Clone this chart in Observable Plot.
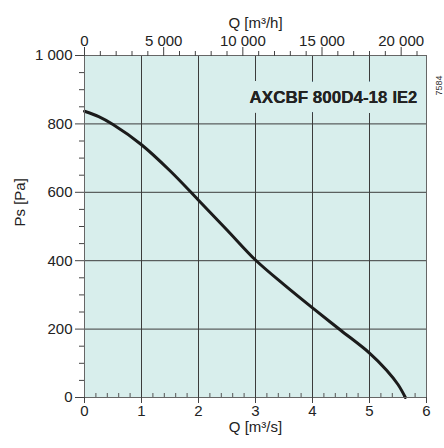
<!DOCTYPE html>
<html>
<head>
<meta charset="utf-8">
<script src="https://cdn.jsdelivr.net/npm/d3@7"></script>
<script src="https://cdn.jsdelivr.net/npm/@observablehq/plot@0.6"></script>
<style>
  html, body { margin: 0; padding: 0; background: #ffffff; }
  #chart svg { display: block; }
</style>
</head>
<body>
<div id="chart"></div>
<script>
// ---- data ----
const flowM3s = [0, 0.25, 0.5, 1, 1.5, 2, 2.5, 3, 3.5, 4, 4.5, 5, 5.3, 5.5, 5.63];
const pressurePa = [837, 821, 798, 739, 663, 577, 490, 402, 330, 262, 196, 130, 80, 38, 0];

const bottomTicks = [0, 1, 2, 3, 4, 5, 6];
const bottomMinor = [0.2, 0.4, 0.6, 0.8, 1.2, 1.4, 1.6, 1.8, 2.2, 2.4, 2.6, 2.8, 3.2, 3.4, 3.6, 3.8, 4.2, 4.4, 4.6, 4.8, 5.2, 5.4, 5.6, 5.8];
const topTicksH = [0, 5000, 10000, 15000, 20000];
const topMinorH = [1000, 2000, 3000, 4000, 6000, 7000, 8000, 9000, 11000, 12000, 13000, 14000, 16000, 17000, 18000, 19000, 21000];
const leftTicks = [0, 200, 400, 600, 800, 1000];
const leftMinor = [50, 100, 150, 250, 300, 350, 450, 500, 550, 650, 700, 750, 850, 900, 950];
const gridX = [1, 2, 3, 4, 5];
const gridY = [200, 400, 600, 800];

const titleMain = "AXCBF 800D4-18";
const titleSuffix = "IE2";
const codeLabel = "7584";
const xLabelBottom = "Q [m³/s]";
const xLabelTop = "Q [m³/h]";
const yLabel = "Ps [Pa]";
const secondsPerHour = 3600;

// ---- build ----
const curve = flowM3s.map((q, i) => ({q, p: pressurePa[i]}));
const spaced = d3.formatLocale({decimal: ".", thousands: " ", grouping: [3], currency: ["", ""]}).format(",");

const bg = "#d8eeec";
const W = 444, H = 448;
const mTop = 55, mBottom = 51, mLeft = 84, mRight = 18;
const innerH = H - mTop - mBottom;

const chart = Plot.plot({
  width: W,
  height: H,
  marginTop: mTop,
  marginBottom: mBottom,
  marginLeft: mLeft,
  marginRight: mRight,
  style: {fontFamily: "'Liberation Sans', Arial, sans-serif", fontSize: "15px", color: "#222", background: "#fff", overflow: "visible"},
  x: {domain: [0, 6]},
  y: {domain: [0, 1000]},
  marks: [
    Plot.frame({fill: bg}),
    Plot.ruleX(gridX, {x: d => d, stroke: "#3c3c3c", strokeWidth: 1}),
    Plot.ruleY(gridY, {y: d => d, stroke: "#3c3c3c", strokeWidth: 1}),
    // inward minor ticks on bottom
    Plot.ruleX(bottomMinor, {x: d => d, insetTop: innerH - 4, stroke: "#555"}),
    // title with halo to mask grid
    Plot.text([titleMain], {text: d => d, frameAnchor: "top-right", dx: -39, dy: 47, textAnchor: "end", lineAnchor: "bottom",
      fontSize: 17, fontWeight: "bold", fill: "#222", stroke: bg, strokeWidth: 20, strokeLinejoin: "round"}),
    Plot.text([titleSuffix], {text: d => d, frameAnchor: "top-right", dx: -34, dy: 47, textAnchor: "start", lineAnchor: "bottom",
      fontSize: 16.5, fontWeight: "bold", fill: "#222", stroke: bg, strokeWidth: 20, strokeLinejoin: "round"}),
    Plot.text([titleMain], {text: d => d, frameAnchor: "top-right", dx: -39, dy: 47, textAnchor: "end", lineAnchor: "bottom",
      fontSize: 17, fontWeight: "bold", fill: "#222"}),
    Plot.text([titleSuffix], {text: d => d, frameAnchor: "top-right", dx: -34, dy: 47, textAnchor: "start", lineAnchor: "bottom",
      fontSize: 16.5, fontWeight: "bold", fill: "#222"}),
    // curve
    Plot.line(curve, {x: "q", y: "p", stroke: "#1b1b1b", strokeWidth: 3, curve: "catmull-rom"}),
    Plot.frame({stroke: "#666", strokeWidth: 1}),
    // bottom axis
    Plot.axisX(bottomTicks, {anchor: "bottom", tickSize: 6, tickPadding: 2, tickFormat: d => String(d), fontSize: 15, stroke: "#444", label: null}),
    // top axis in m3/h
    Plot.axisX(topTicksH.map(h => h / secondsPerHour), {anchor: "top", tickSize: 9, tickPadding: 1, tickFormat: d => spaced(Math.round(d * secondsPerHour)), fontSize: 15, stroke: "#444", label: null}),
    Plot.axisX(topMinorH.map(h => h / secondsPerHour), {anchor: "top", tickSize: 5, tickFormat: () => "", stroke: "#444", label: null}),
    // left axis
    Plot.axisY(leftTicks, {anchor: "left", tickSize: 9, tickPadding: 3, tickFormat: d => spaced(d), fontSize: 15, stroke: "#444", label: null}),
    Plot.axisY(leftMinor, {anchor: "left", tickSize: 5, tickFormat: () => "", stroke: "#444", label: null}),
    // axis labels
    Plot.text([xLabelTop], {text: d => d, frameAnchor: "top", dy: -38, fontSize: 15, fill: "#222"}),
    Plot.text([xLabelBottom], {text: d => d, frameAnchor: "bottom", dy: 34, fontSize: 15, fill: "#222"}),
    Plot.text([yLabel], {text: d => d, frameAnchor: "left", dx: -64, rotate: -90, fontSize: 15, fill: "#222"}),
    Plot.text([codeLabel], {text: d => d, frameAnchor: "top-right", dx: 9, dy: 20, rotate: -90, fontSize: 9, fill: "#333"})
  ]
});
document.getElementById("chart").appendChild(chart);
</script>
</body>
</html>
